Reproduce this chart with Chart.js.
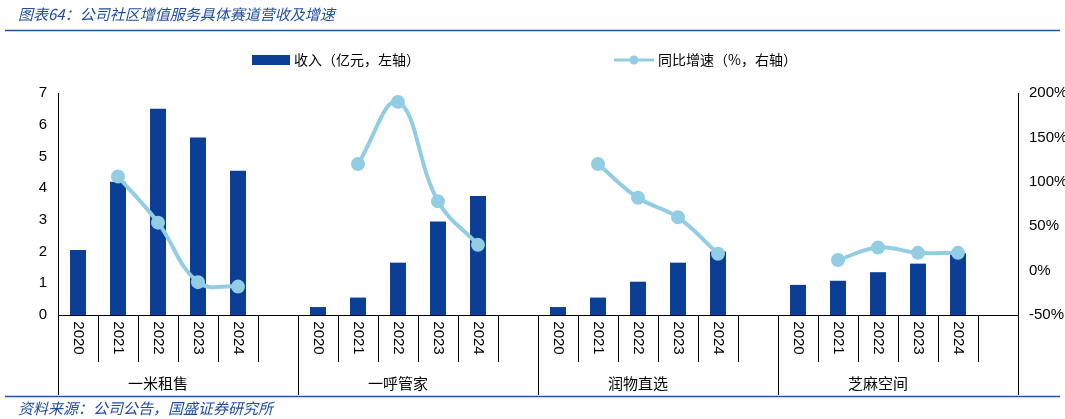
<!DOCTYPE html>
<html><head><meta charset="utf-8">
<script src="https://cdn.jsdelivr.net/npm/chart.js@4"></script>
<style>html,body{margin:0;padding:0;background:#fff}#w{position:relative;width:1065px;height:419px}</style>
</head><body><div id="w"><canvas id="c" width="1065" height="419"></canvas></div>
<script>
const groups = ['一米租售','一呼管家','润物直选','芝麻空间'];
const years = ['2020','2021','2022','2023','2024'];
const revenue = {
  '一米租售':[2.05,4.2,6.5,5.6,4.55],
  '一呼管家':[0.25,0.55,1.65,2.95,3.75],
  '润物直选':[0.25,0.55,1.05,1.65,2.0],
  '芝麻空间':[0.95,1.08,1.35,1.62,1.95]
};
const growth = {
  '一米租售':[null,106,54,-13,-18],
  '一呼管家':[null,120,190,78,29],
  '润物直选':[null,120,82,60,19],
  '芝麻空间':[null,12,26,20,20]
};
const labels=[], barData=[], lineData=[];
groups.forEach(g=>{years.forEach((y,i)=>{labels.push(g+'|'+y);barData.push(revenue[g][i]);lineData.push(growth[g][i]);});labels.push(g+'|');barData.push(null);lineData.push(null);});
const CJK='"Noto Sans CJK SC", sans-serif';
const deco={id:'deco',afterDraw(ch){
  const c=ch.ctx,x=ch.scales.x,a=ch.chartArea;
  c.save();
  // title
  c.fillStyle='#1f4e9c';c.font='italic 15px '+CJK;c.textBaseline='middle';c.textAlign='left';
  c.fillText('图表64：公司社区增值服务具体赛道营收及增速',18,14);
  c.fillText('资料来源：公司公告，国盛证券研究所',18,408);
  c.strokeStyle='#1f56a8';c.lineWidth=1.3;
  c.beginPath();c.moveTo(5,30.5);c.lineTo(1060,30.5);c.moveTo(5,396.5);c.lineTo(1060,396.5);c.stroke();
  // legend
  c.fillStyle='#0b3e96';c.fillRect(252,55,38,10);
  c.fillStyle='#000';c.font='14px '+CJK;c.fillText('收入（亿元，左轴）',294,60);
  c.strokeStyle='#92cde3';c.lineWidth=3;c.beginPath();c.moveTo(614,60);c.lineTo(654,60);c.stroke();
  c.fillStyle='#92cde3';c.beginPath();c.arc(634,60,4.5,0,7);c.fill();
  c.fillStyle='#000';c.fillText('同比增速（%，右轴）',658,60);
  // x labels
  const step=x.getPixelForValue(1)-x.getPixelForValue(0);
  c.strokeStyle='#000';c.lineWidth=1;c.font='15px Arial, "Liberation Sans"';
  labels.forEach((l,i)=>{
    const px=x.getPixelForValue(i);const [g,y]=l.split('|');
    const bx=Math.round(px-step/2)+0.5;
    const isGroupStart=(i%6===0);
    c.beginPath();c.moveTo(bx,a.bottom);c.lineTo(bx,isGroupStart?395:362);c.stroke();
    if(y){c.save();c.translate(px,338);c.rotate(Math.PI/2);c.textAlign='center';c.textBaseline='middle';c.fillText(y,0,0);c.restore();}
  });
  c.beginPath();c.moveTo(a.right+0.5,a.bottom);c.lineTo(a.right+0.5,395);c.stroke();
  c.font='15px '+CJK;c.textAlign='center';
  groups.forEach((g,k)=>{const p0=x.getPixelForValue(k*6),p1=x.getPixelForValue(k*6+5);c.fillText(g,(p0+p1)/2-step/2,383);});
  c.restore();
}};
new Chart(document.getElementById('c'),{
  data:{labels,datasets:[
    {type:'line',data:lineData,yAxisID:'y1',borderColor:'#92cde3',backgroundColor:'#92cde3',borderWidth:4,tension:0.4,pointRadius:5,pointHoverRadius:5,spanGaps:false,order:0},
    {type:'bar',data:barData,yAxisID:'y',backgroundColor:'#0b3e96',barPercentage:0.4,categoryPercentage:1,order:1}
  ]},
  options:{responsive:false,animation:false,
    layout:{padding:{top:93,right:0,left:0,bottom:0}},
    plugins:{legend:{display:false},tooltip:{enabled:false}},
    scales:{
      x:{ticks:{display:false},grid:{display:false},border:{color:'#000'},afterFit(s){s.height=104;}},
      y:{position:'left',min:0,max:7,ticks:{stepSize:1,color:'#000',font:{size:15,family:'Arial'}},grid:{display:false,drawTicks:true},border:{color:'#000'},afterFit(s){s.width=58;}},
      y1:{position:'right',min:-50,max:200,ticks:{stepSize:50,color:'#000',font:{size:15,family:'Arial'},callback:v=>v+'%'},grid:{display:false},border:{color:'#000'},afterFit(s){s.width=47;}}
    }},
  plugins:[deco]
});
</script></body></html>
